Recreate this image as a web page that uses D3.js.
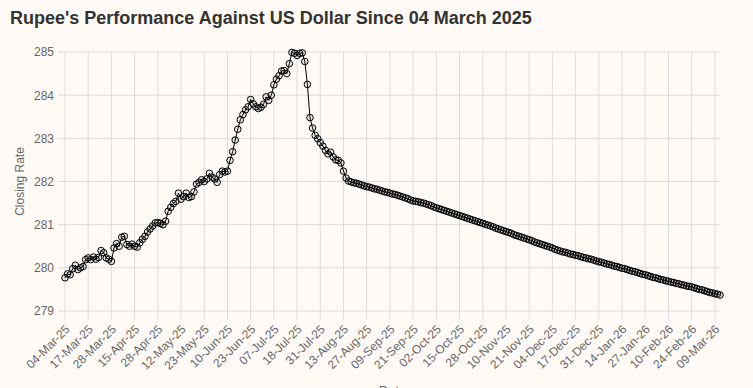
<!DOCTYPE html>
<html>
<head>
<meta charset="utf-8">
<script src="https://cdn.jsdelivr.net/npm/d3@7"></script>
<style>
  body { margin: 0; background: #fffaf6; }
  text { font-family: "Liberation Sans", Arial, sans-serif; }
</style>
</head>
<body>
<div id="chart"></div>
<script>
const title = "Rupee's Performance Against US Dollar Since 04 March 2025";

// one label every 9 trading days
const tickLabels = ["04-Mar-25","17-Mar-25","28-Mar-25","15-Apr-25","28-Apr-25","12-May-25",
  "23-May-25","10-Jun-25","23-Jun-25","07-Jul-25","18-Jul-25","31-Jul-25","13-Aug-25",
  "27-Aug-25","09-Sep-25","21-Sep-25","02-Oct-25","15-Oct-25","28-Oct-25","10-Nov-25",
  "21-Nov-25","04-Dec-25","17-Dec-25","31-Dec-25","14-Jan-26","27-Jan-26","10-Feb-26",
  "24-Feb-26","09-Mar-26"];
const tickStep = 9;

const closingRate = [
  279.77, 279.86, 279.84, 279.98, 280.06, 279.96, 280.00, 280.03, 280.19, 280.23,
  280.19, 280.25, 280.20, 280.24, 280.40, 280.35, 280.23, 280.20, 280.15, 280.46,
  280.56, 280.50, 280.71, 280.73, 280.54, 280.50, 280.55, 280.50, 280.48, 280.58,
  280.66, 280.73, 280.83, 280.90, 280.97, 281.04, 281.05, 281.03, 281.00, 281.08,
  281.31, 281.40, 281.49, 281.54, 281.73, 281.59, 281.65, 281.73, 281.63, 281.65,
  281.76, 281.94, 281.98, 282.04, 282.00, 282.06, 282.19, 282.10, 282.06, 281.98,
  282.16, 282.24, 282.22, 282.24, 282.49, 282.69, 282.96, 283.21, 283.43, 283.55,
  283.66, 283.73, 283.90, 283.80, 283.73, 283.69, 283.72, 283.79, 283.96, 283.88,
  284.00, 284.24, 284.37, 284.45, 284.56, 284.57, 284.50, 284.73, 284.99, 284.97,
  284.92, 284.97, 284.98, 284.78, 284.25, 283.48, 283.24, 283.07, 282.99, 282.90,
  282.82, 282.72, 282.64, 282.68, 282.57, 282.50, 282.49, 282.43, 282.24, 282.08,
  282.01, 281.99, 281.97, 281.96, 281.94, 281.92, 281.90, 281.88, 281.87, 281.85,
  281.83, 281.82, 281.80, 281.78, 281.76, 281.75, 281.73, 281.71, 281.70, 281.68,
  281.66, 281.64, 281.62, 281.60, 281.57, 281.55, 281.54, 281.53, 281.51, 281.50,
  281.48, 281.46, 281.44, 281.41, 281.39, 281.37, 281.35, 281.33, 281.31, 281.29,
  281.27, 281.25, 281.23, 281.21, 281.19, 281.17, 281.15, 281.13, 281.11, 281.09,
  281.07, 281.05, 281.03, 281.01, 280.99, 280.97, 280.95, 280.92, 280.90, 280.88,
  280.86, 280.84, 280.82, 280.80, 280.77, 280.75, 280.73, 280.71, 280.69, 280.67,
  280.65, 280.63, 280.60, 280.58, 280.56, 280.54, 280.52, 280.50, 280.48, 280.46,
  280.43, 280.41, 280.39, 280.37, 280.36, 280.34, 280.32, 280.31, 280.29, 280.28,
  280.26, 280.24, 280.23, 280.21, 280.20, 280.18, 280.16, 280.14, 280.13, 280.11,
  280.09, 280.08, 280.06, 280.04, 280.03, 280.01, 279.99, 279.98, 279.96, 279.94,
  279.92, 279.91, 279.89, 279.87, 279.85, 279.84, 279.82, 279.80, 279.78, 279.77,
  279.75, 279.73, 279.72, 279.70, 279.69, 279.67, 279.66, 279.64, 279.63, 279.61,
  279.60, 279.58, 279.57, 279.56, 279.54, 279.52, 279.50, 279.49, 279.47, 279.45,
  279.43, 279.42, 279.40, 279.39, 279.37
];

const yTicks = [279, 280, 281, 282, 283, 284, 285];

const width = 753, height = 388;
const margin = {left: 65, right: 33, top: 52, bottom: 77};

const svg = d3.select("#chart").append("svg")
    .attr("width", width)
    .attr("height", height);

svg.append("rect").attr("width", width).attr("height", height).attr("fill", "#fffaf6");

const xScale = d3.scaleLinear()
    .domain([0, closingRate.length - 1])
    .range([margin.left, width - margin.right]);
const yScale = d3.scaleLinear()
    .domain([279, 285])
    .range([height - margin.bottom, margin.top]);

const tickIdx = tickLabels.map((d, i) => i * tickStep);

// grid
svg.append("g").selectAll("line")
    .data(yTicks).enter().append("line")
    .attr("x1", margin.left - 7).attr("x2", width - margin.right)
    .attr("y1", d => yScale(d)).attr("y2", d => yScale(d))
    .attr("stroke", "#dcdcdc").attr("stroke-width", 1);
svg.append("g").selectAll("line")
    .data(tickIdx).enter().append("line")
    .attr("x1", d => xScale(d)).attr("x2", d => xScale(d))
    .attr("y1", margin.top).attr("y2", height - margin.bottom + 8)
    .attr("stroke", "#dcdcdc").attr("stroke-width", 1);

// axes (labels only)
const yAxis = d3.axisLeft(yScale).tickValues(yTicks).tickSize(0).tickPadding(11).tickFormat(d3.format("d"));
svg.append("g")
    .attr("transform", `translate(${margin.left},0)`)
    .call(yAxis)
    .call(g => g.select(".domain").remove())
    .selectAll("text")
    .attr("fill", "#666").attr("font-size", "12px");

const xAxis = d3.axisBottom(xScale).tickValues(tickIdx).tickSize(0)
    .tickFormat((d, i) => tickLabels[i]);
svg.append("g")
    .attr("transform", `translate(0,${height - margin.bottom})`)
    .call(xAxis)
    .call(g => g.select(".domain").remove())
    .selectAll("text")
    .attr("fill", "#666").attr("font-size", "12px")
    .attr("text-anchor", "end")
    .attr("dy", null).attr("y", 0)
    .attr("transform", "translate(5,19) rotate(-45)");

// line + points
const line = d3.line()
    .x((d, i) => xScale(i))
    .y(d => yScale(d));
svg.append("path")
    .datum(closingRate)
    .attr("d", line)
    .attr("fill", "none")
    .attr("stroke", "#000")
    .attr("stroke-width", 1);

svg.append("g").selectAll("circle")
    .data(closingRate).enter().append("circle")
    .attr("cx", (d, i) => xScale(i))
    .attr("cy", d => yScale(d))
    .attr("r", 3.3)
    .attr("fill", "rgba(0,0,0,0.08)")
    .attr("stroke", "#000")
    .attr("stroke-width", 1);

// titles
svg.append("text")
    .attr("x", 10).attr("y", 24)
    .attr("font-size", "18px").attr("font-weight", "bold")
    .attr("fill", "#333")
    .text(title);

svg.append("text")
    .attr("transform", `translate(24,${(margin.top + height - margin.bottom) / 2}) rotate(-90)`)
    .attr("text-anchor", "middle")
    .attr("font-size", "12px").attr("fill", "#666")
    .text("Closing Rate");

svg.append("text")
    .attr("x", (margin.left + width - margin.right) / 2).attr("y", 395)
    .attr("text-anchor", "middle")
    .attr("font-size", "13px").attr("fill", "#666")
    .text("Date");
</script>
</body>
</html>
